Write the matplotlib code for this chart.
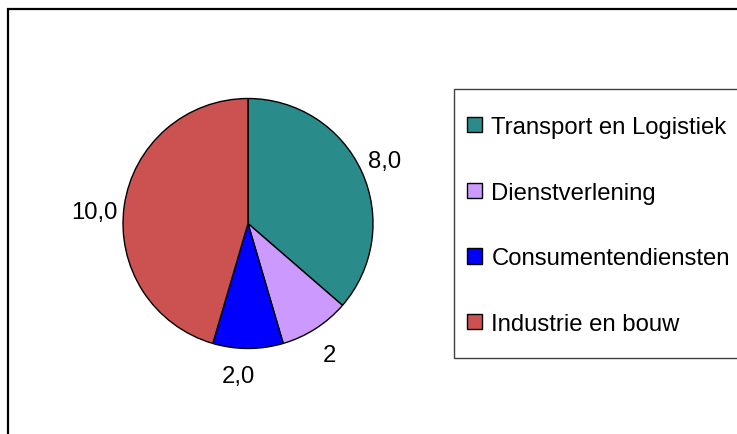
import numpy as np
import matplotlib
matplotlib.use("Agg")
import matplotlib.pyplot as plt
from matplotlib.patches import Rectangle

# ======================= DATA =======================
SECTORS = ["Transport en Logistiek", "Dienstverlening",
           "Consumentendiensten", "Industrie en bouw"]
VALUES  = [8.0, 2.0, 2.0, 10.0]
LABELS  = ["8,0", "2", "2,0", "10,0"]
COLORS  = ["#2A8C8A", "#CC99FF", "#0000FF", "#CC5252"]
# ====================================================

W, H = 737, 435
FS = 17.2
plt.rcParams["font.family"] = ["Liberation Sans", "DejaVu Sans"]

fig = plt.figure(figsize=(W / 100, H / 100), dpi=100)

# outer chart frame (runs off right/bottom edge as in the reference)
fig.patches.append(Rectangle((8 / W, -0.1), 1.2, (H - 10) / H + 0.1,
                             transform=fig.transFigure, fill=False,
                             edgecolor="black", linewidth=1.6))

# pie axes: centre (248, 224.5) px, radius 125 px
cx, cy, r = 248, H - 224.5, 125
ax = fig.add_axes([(cx - r) / W, (cy - r) / H, 2 * r / W, 2 * r / H])
wedges, texts = ax.pie(VALUES, labels=LABELS, colors=COLORS, startangle=90,
                       counterclock=False, labeldistance=1.2,
                       wedgeprops=dict(edgecolor="black", linewidth=1.0),
                       textprops=dict(fontsize=FS))
for t in texts:
    t.set_ha("center"); t.set_va("center")
# Excel-like best-fit placement nudges
x, y = texts[1].get_position(); texts[1].set_position((x, y - 0.04))
x, y = texts[2].get_position(); texts[2].set_position((x - 0.08, y - 0.02))
x, y = texts[3].get_position(); texts[3].set_position((x - 0.04, y - 0.08))
ax.set_xlim(-1, 1); ax.set_ylim(-1, 1)
ax.set_aspect("equal")
ax.axis("off")

# legend box
fig.patches.append(Rectangle((454 / W, (H - 359) / H), 0.5, (359 - 90) / H,
                             transform=fig.transFigure, fill=False,
                             edgecolor="#404040", linewidth=1.0))
handles = [Rectangle((0, 0), 1, 1, facecolor=c, edgecolor="black", linewidth=1.0)
           for c in COLORS]
fig.legend(handles, SECTORS, loc="upper left",
           bbox_to_anchor=(467 / W, (H - 117) / H), frameon=False,
           fontsize=FS, handlelength=0.62, handleheight=0.62,
           handletextpad=0.4, labelspacing=1.83, borderpad=0, borderaxespad=0)

plt.savefig("out.png", dpi=100)
plt.close()
